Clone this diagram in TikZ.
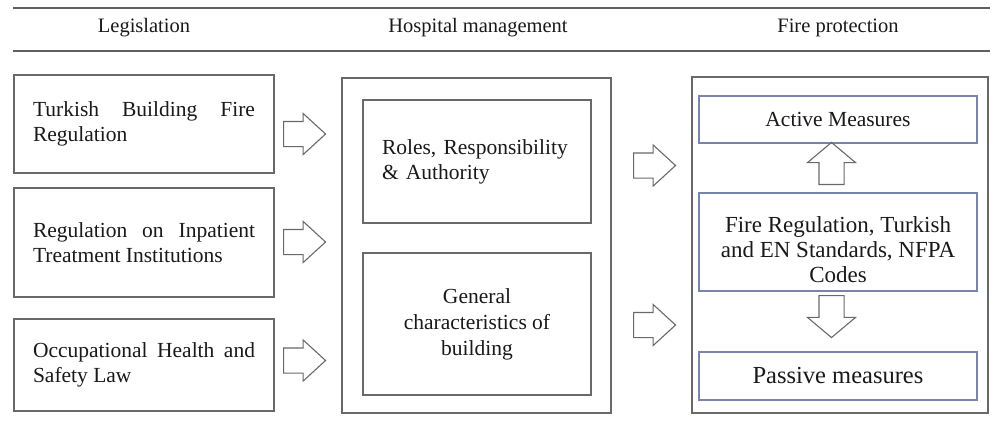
\documentclass[tikz,border=0pt]{standalone}
\usepackage{fontspec}
\setmainfont{Liberation Serif}
\usetikzlibrary{shapes.arrows}
\hyphenpenalty=10000

\definecolor{rulegray}{RGB}{95,95,95}
\definecolor{boxgray}{RGB}{105,105,105}
\definecolor{boxblue}{RGB}{120,132,172}
\definecolor{inkgray}{RGB}{25,25,25}

\begin{document}
\begin{tikzpicture}[x=1pt, y=-1pt]
	\tikzstyle{every node}=[text=inkgray]
	\tikzstyle{head}=[font=\fontsize{20.5}{24}\selectfont]
	\tikzstyle{lawbox}=[draw=boxgray, line width=1.3pt, minimum width=260pt, text width=222pt, align=justify, font=\fontsize{21.5}{25}\selectfont]
	\tikzstyle{frame}=[draw=boxgray, line width=1.3pt]
	\tikzstyle{mgmtbox}=[draw=boxgray, line width=1.3pt, minimum width=228pt, font=\fontsize{21.5}{25}\selectfont]
	\tikzstyle{firebox}=[draw=boxblue, line width=1.2pt, minimum width=278pt, align=center]
	\tikzstyle{bigarrow}=[single arrow, draw=boxgray, line width=1.1pt, minimum height=42pt, inner xsep=1pt, inner ysep=12pt, single arrow head extend=8pt, single arrow tip angle=85, anchor=tail]
	\tikzstyle{vbigarrow}=[bigarrow, inner xsep=12pt, inner ysep=1pt, single arrow head extend=11.5pt, single arrow tip angle=100]

	\useasboundingbox (0,0) rectangle (991,432);

	% header rules and titles
	\coordinate (topL) at (13,8);
	\coordinate (topR) at (990,8);
	\coordinate (midL) at (13,51);
	\coordinate (midR) at (990,51);
	\draw[rulegray, line width=1.4pt] (topL) -- (topR);
	\draw[rulegray, line width=1.4pt] (midL) -- (midR);

	\node[head] (legis) at (144,28) {Legislation};
	\node[head] (hosp) at (478,28) {Hospital management};
	\node[head] (fire) at (838,28) {Fire protection};

	% legislation
	\node[lawbox, minimum height=98pt] (tbfr) at (144,124) {Turkish Building Fire Regulation};
	\node[lawbox, minimum height=109pt] (ritp) at (144,242.5) {Regulation on Inpatient Treatment Institutions};
	\node[lawbox, minimum height=92pt] (ohsl) at (144,365) {Occupational Health and Safety Law};

	\node[bigarrow] (arrA) at (283,134) {};
	\node[bigarrow] (arrB) at (283,242) {};
	\node[bigarrow] (arrC) at (283,360.5) {};

	% hospital management
	\node[frame, minimum width=269pt, minimum height=335pt] (mgmt) at (476.5,245.5) {};
	\node[mgmtbox, minimum height=123pt, text width=190pt, align=left] (roles) at (477,161.5) {Roles, Responsibility \& Authority};
	\node[mgmtbox, minimum height=142pt, align=center, font=\fontsize{21.5}{26}\selectfont] (gen) at (477,324) {General\\characteristics of\\building};

	\node[bigarrow] (arrD) at (633,165.5) {};
	\node[bigarrow] (arrE) at (633,325) {};

	% fire protection
	\node[frame, minimum width=296pt, minimum height=336pt] (prot) at (840,245) {};
	\node[firebox, minimum height=47pt, font=\fontsize{21.5}{25}\selectfont] (active) at (838,119.5) {Active Measures};
	\node[firebox, minimum height=98pt, text height=82pt, font=\fontsize{23}{25}\selectfont] (codes) at (838,242) {Fire Regulation, Turkish\\and EN Standards, NFPA\\Codes};
	\node[firebox, minimum height=48pt, font=\fontsize{24.5}{28}\selectfont] (passive) at (838,376) {Passive measures};

	\node[vbigarrow, shape border rotate=90] (arrUp) at (831.5,185) {};
	\node[vbigarrow, shape border rotate=270] (arrDown) at (831.5,295) {};
\end{tikzpicture}
\end{document}
